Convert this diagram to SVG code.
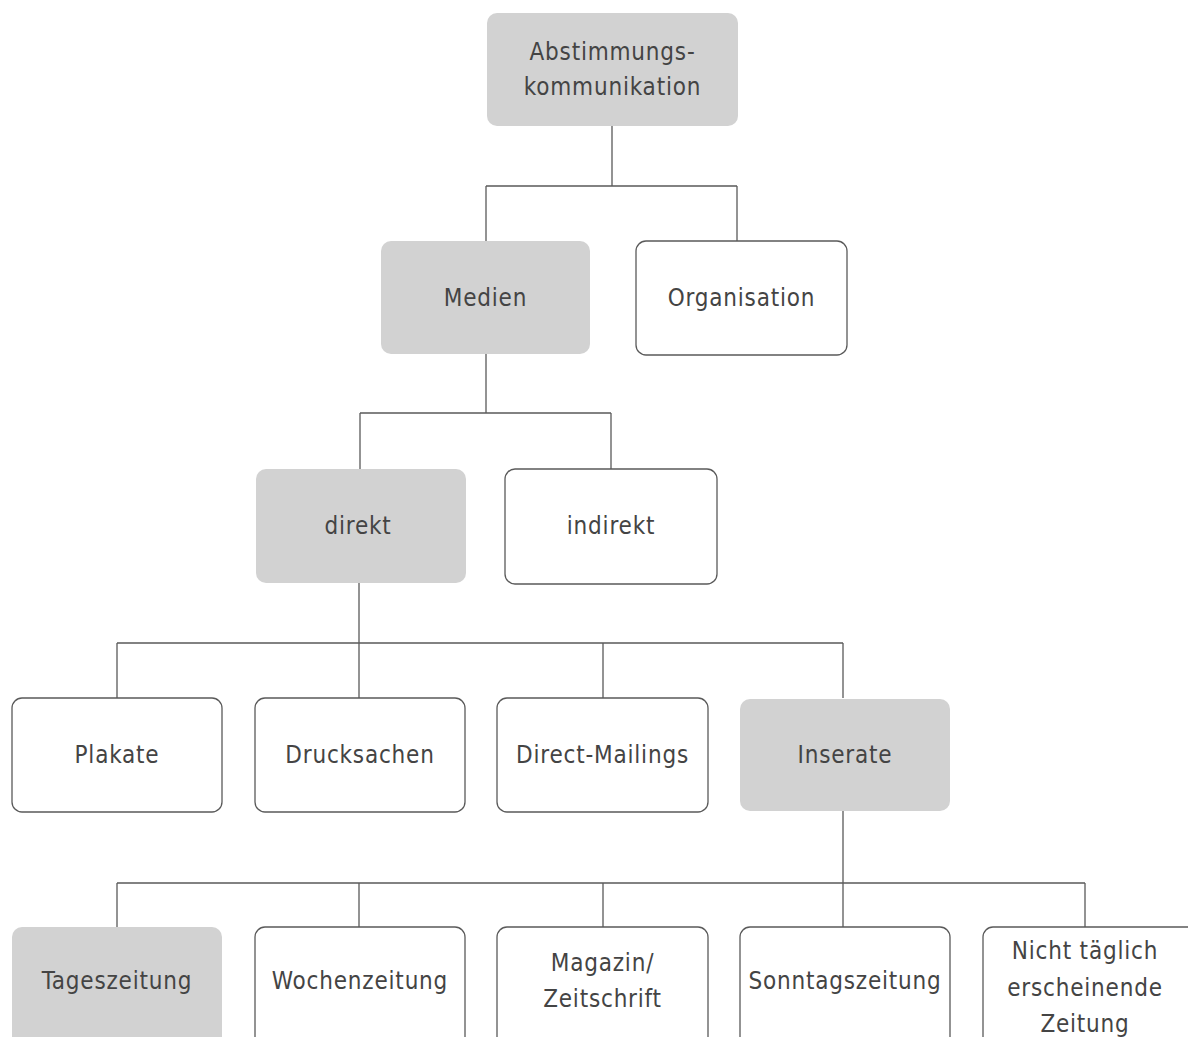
<svg xmlns="http://www.w3.org/2000/svg" width="1188" height="1037" viewBox="0 0 1188 1037">
<style>
.box{fill:#ffffff;stroke:#5a5a5a;stroke-width:1.3}
.hl{fill:#d2d2d2;stroke:none}
.t{font-family:"Liberation Sans Narrow","DejaVu Sans Condensed","Liberation Sans",sans-serif;font-size:24px;fill:#444444;text-anchor:middle;letter-spacing:0.8px}
.c{fill:none;stroke:#5a5a5a;stroke-width:1.3}
</style>
<rect width="1188" height="1037" fill="#ffffff"/>
<g id="connectors" class="c">
<path d="M612,126V186M486,186H737M486,186V241M737,186V241"/>
<path d="M486,354V413M360,413H611M360,413V469M611,413V469"/>
<path d="M359,583V643M117,643H843M117,643V698M359,643V698M603,643V698M843,643V698"/>
<path d="M843,811V883M117,883H1085M117,883V927M359,883V927M603,883V927M843,883V927M1085,883V927"/>
</g>
<g id="n-abstimmung"><rect class="hl" x="487" y="13" width="251" height="113" rx="10"/><text class="t" x="612.5" y="60">Abstimmungs-</text><text class="t" x="612.5" y="95">kommunikation</text></g>
<g id="n-medien"><rect class="hl" x="381" y="241" width="209" height="113" rx="10"/><text class="t" x="485.5" y="306">Medien</text></g>
<g id="n-organisation"><rect class="box" x="636" y="241" width="211" height="114" rx="10"/><text class="t" x="741.5" y="306">Organisation</text></g>
<g id="n-direkt"><rect class="hl" x="256" y="469" width="210" height="114" rx="10"/><text class="t" x="358" y="534">direkt</text></g>
<g id="n-indirekt"><rect class="box" x="505" y="469" width="212" height="115" rx="10"/><text class="t" x="611" y="534">indirekt</text></g>
<g id="n-plakate"><rect class="box" x="12" y="698" width="210" height="114" rx="10"/><text class="t" x="117" y="763">Plakate</text></g>
<g id="n-drucksachen"><rect class="box" x="255" y="698" width="210" height="114" rx="10"/><text class="t" x="360" y="763">Drucksachen</text></g>
<g id="n-directmailings"><rect class="box" x="497" y="698" width="211" height="114" rx="10"/><text class="t" x="602.5" y="763">Direct-Mailings</text></g>
<g id="n-inserate"><rect class="hl" x="740" y="699" width="210" height="112" rx="10"/><text class="t" x="845" y="763">Inserate</text></g>
<g id="n-tageszeitung"><rect class="hl" x="12" y="927" width="210" height="130" rx="10"/><text class="t" x="117" y="989">Tageszeitung</text></g>
<g id="n-wochenzeitung"><rect class="box" x="255" y="927" width="210" height="130" rx="10"/><text class="t" x="360" y="989">Wochenzeitung</text></g>
<g id="n-magazin"><rect class="box" x="497" y="927" width="211" height="130" rx="10"/><text class="t" x="602.5" y="971">Magazin/</text><text class="t" x="602.5" y="1007">Zeitschrift</text></g>
<g id="n-sonntagszeitung"><rect class="box" x="740" y="927" width="210" height="130" rx="10"/><text class="t" x="845" y="989">Sonntagszeitung</text></g>
<g id="n-nichttaeglich"><rect class="box" x="983" y="927" width="215" height="130" rx="10"/><text class="t" x="1085" y="959">Nicht täglich</text><text class="t" x="1085" y="996">erscheinende</text><text class="t" x="1085" y="1032">Zeitung</text></g>
</svg>
